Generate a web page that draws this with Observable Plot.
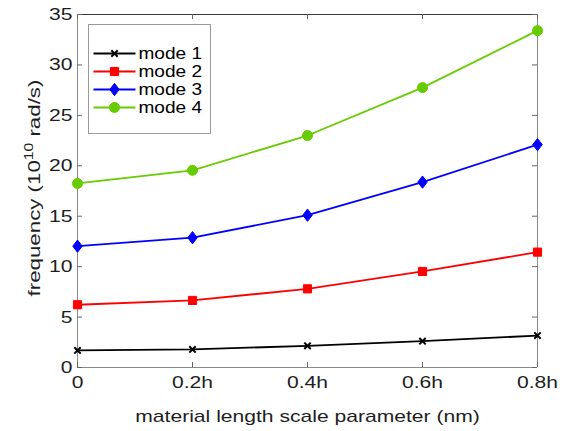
<!DOCTYPE html>
<html>
<head>
<meta charset="utf-8">
<script src="https://cdn.jsdelivr.net/npm/d3@7"></script>
<script src="https://cdn.jsdelivr.net/npm/@observablehq/plot@0.6"></script>
<style>
  html, body { margin: 0; padding: 0; background: #fff; }
  #wrap { position: relative; width: 567px; height: 431px; }
  #legend { position: absolute; left: 88px; top: 24px; }
  svg { font-family: "Liberation Sans", Arial, sans-serif; }
</style>
</head>
<body>
<div id="wrap"><div id="chart"></div><div id="legend"></div></div>
<script>
// ---- data ----
const xValues = [0, 0.2, 0.4, 0.6, 0.8];
const xTickLabels = ["0", "0.2h", "0.4h", "0.6h", "0.8h"];
const yTicks = [0, 5, 10, 15, 20, 25, 30, 35];
const modeNames = ["mode 1", "mode 2", "mode 3", "mode 4"];
const mode1 = [1.69, 1.79, 2.15, 2.61, 3.17];
const mode2 = [6.22, 6.65, 7.80, 9.52, 11.44];
const mode3 = [12.03, 12.87, 15.10, 18.38, 22.10];
const mode4 = [18.25, 19.55, 23.00, 27.75, 33.40];
const modeColors = ["#000000", "#ff0000", "#0000ff", "#66cc00"];
const xLabel = "material length scale parameter (nm)";
const yLabelMain = "frequency (10";
const yLabelSup = "10";
const yLabelEnd = " rad/s)";

// ---- table ----
const series = [mode1, mode2, mode3, mode4];
const rows = series.flatMap((vals, i) => vals.map((v, j) => ({mode: modeNames[i], x: xValues[j], y: v})));

// MATLAB-like diamond (less elongated than d3's)
const matDiamond = {
  draw(ctx, size) {
    const h = Math.sqrt(size / 1.54), w = h * 0.77;
    ctx.moveTo(0, -h); ctx.lineTo(w, 0); ctx.lineTo(0, h); ctx.lineTo(-w, 0); ctx.closePath();
  }
};
const symbolRange = ["times", "square", matDiamond, "circle"];
const sizes = [3, 4.6, 4.3, 5];

const W = 567, H = 431;
const mL = 77, mR = 30, mT = 14, mB = 64;
const plotW = W - mL - mR, plotH = H - mT - mB;
const tickLen = 5;
const axisGray = "#8a8a8a";
const textColor = "#1e1e1e";
const FS = 17;

const dotMarks = modeNames.map((m, i) => Plot.dot(rows.filter(r => r.mode === m), {
  x: "x", y: "y", symbol: "mode", r: sizes[i],
  fill: i === 0 ? "none" : "mode", stroke: "mode", strokeWidth: i === 0 ? 2 : 1
}));

const chart = Plot.plot({
  width: W, height: H,
  marginLeft: mL, marginRight: mR, marginTop: mT, marginBottom: mB,
  style: {fontFamily: "Liberation Sans, Arial, sans-serif", fontSize: FS + "px", color: textColor, background: "white"},
  x: {domain: [0, 0.8]},
  y: {domain: [0, 35]},
  color: {domain: modeNames, range: modeColors},
  symbol: {domain: modeNames, range: symbolRange},
  marks: [
    // box
    Plot.ruleY([0], {stroke: axisGray}),
    Plot.ruleY([35], {stroke: "#3a3a3a"}),
    Plot.ruleX([0], {stroke: axisGray}),
    Plot.ruleX([0.8], {stroke: axisGray}),
    // inward ticks
    Plot.tickX(xValues, {x: d => d, insetTop: plotH - tickLen, stroke: "#666"}),
    Plot.tickX(xValues, {x: d => d, insetBottom: plotH - tickLen, stroke: "#666"}),
    Plot.tickY(yTicks, {y: d => d, insetRight: plotW - tickLen, stroke: "#666"}),
    Plot.tickY(yTicks, {y: d => d, insetLeft: plotW - tickLen, stroke: "#666"}),
    // axes (labels only)
    Plot.axisX({ticks: xValues, tickFormat: (d) => xTickLabels[xValues.indexOf(d)], tickSize: 0, tickPadding: 8, label: null, fill: textColor, fontSize: FS}),
    Plot.axisY({ticks: yTicks, tickSize: 0, tickPadding: 5, label: null, fill: textColor, fontSize: FS}),
    // series
    Plot.line(rows, {x: "x", y: "y", z: "mode", stroke: "mode", strokeWidth: 1.8}),
    ...dotMarks,
    // axis titles
    Plot.text([xLabel], {text: d => d, frameAnchor: "bottom", dy: 49, lineAnchor: "middle", fill: textColor, fontSize: FS, className: "xlab"}),
    Plot.text([yLabelMain], {text: d => d, frameAnchor: "left", dx: -43, dy: -3, rotate: -90, lineAnchor: "middle", textAnchor: "start", fill: textColor, fontSize: FS, className: "ylab"})
  ]
});
document.getElementById("chart").appendChild(chart);

// legend (its own small Plot)
const legendRows = modeNames.map((m) => ({mode: m}));
const LW = 122, LH = 109;
const legend = Plot.plot({
  width: LW, height: LH, margin: 0,
  style: {fontFamily: "Liberation Sans, Arial, sans-serif", fontSize: FS + "px", background: "white", overflow: "visible"},
  x: {domain: [0, LW], range: [0, LW], axis: null},
  y: {type: "point", domain: modeNames, range: [18.4, 94], axis: null},
  color: {domain: modeNames, range: modeColors},
  symbol: {domain: modeNames, range: symbolRange},
  marks: [
    Plot.frame({stroke: "#9a9a9a", fill: "white"}),
    Plot.link(legendRows, {x1: 5, x2: 47, y1: "mode", y2: "mode", stroke: "mode", strokeWidth: 1.8}),
    ...modeNames.map((m, i) => Plot.dot([legendRows[i]], {x: 26, y: "mode", symbol: "mode", r: sizes[i], fill: i === 0 ? "none" : "mode", stroke: "mode", strokeWidth: i === 0 ? 2 : 1})),
    Plot.text(legendRows, {x: 50, y: "mode", text: "mode", textAnchor: "start", lineAnchor: "middle", fill: "#000", fontSize: FS})
  ]
});
document.getElementById("legend").appendChild(legend);

// horizontal widening of glyphs (reference text is wide)
function widen(svg, k) {
  svg.querySelectorAll("text").forEach(t => {
    if (t.closest(".ylab")) return;
    const w = t.getComputedTextLength();
    if (w > 0) { t.setAttribute("textLength", (w * k).toFixed(1)); t.setAttribute("lengthAdjust", "spacingAndGlyphs"); }
  });
}
widen(chart, 1.24);
widen(legend, 1.12);

// y-label with superscript, centred manually along the axis
const ylabText = chart.querySelector(".ylab text");
if (ylabText) {
  ylabText.textContent = yLabelMain;
  const sup = document.createElementNS("http://www.w3.org/2000/svg", "tspan");
  sup.setAttribute("dy", "-7");
  sup.setAttribute("font-size", "12");
  sup.textContent = yLabelSup;
  const rest = document.createElementNS("http://www.w3.org/2000/svg", "tspan");
  rest.setAttribute("dy", "7");
  rest.textContent = yLabelEnd;
  ylabText.appendChild(sup);
  ylabText.appendChild(rest);
  const w = ylabText.getComputedTextLength();
  const target = w * 1.31;
  ylabText.setAttribute("textLength", target.toFixed(1));
  ylabText.setAttribute("lengthAdjust", "spacingAndGlyphs");
  ylabText.setAttribute("text-anchor", "start");
  ylabText.setAttribute("x", (-target / 2).toFixed(1));
}
</script>
</body>
</html>
